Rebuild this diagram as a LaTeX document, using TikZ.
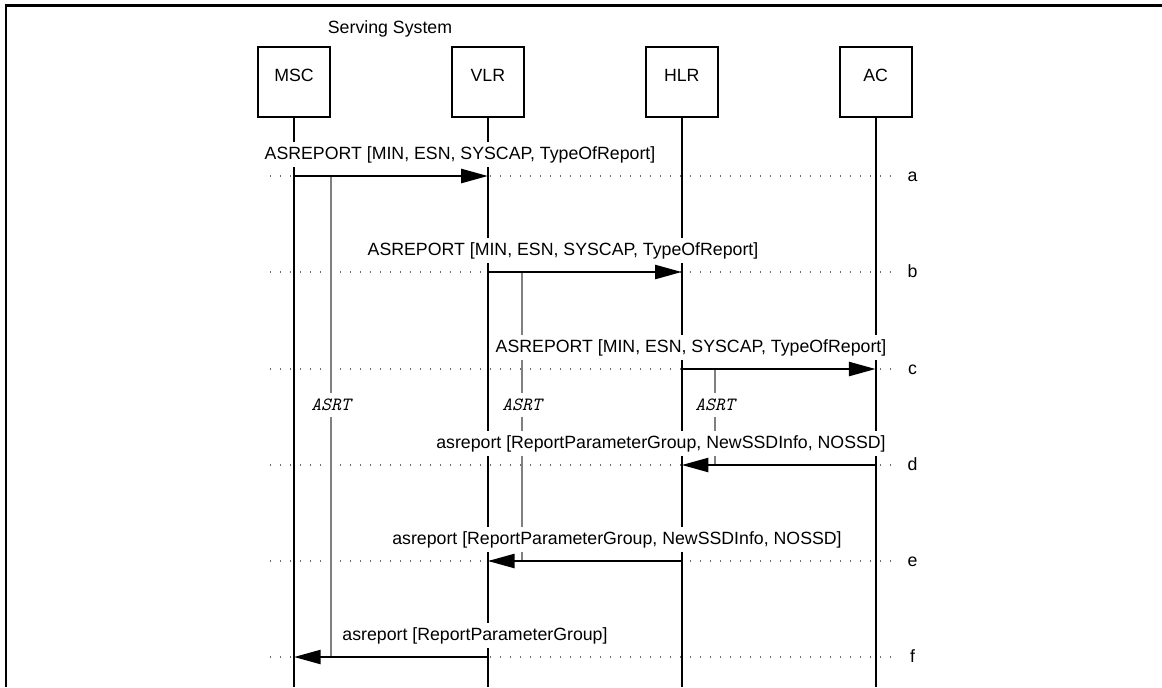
\documentclass[tikz,border=0pt]{standalone}
\usepackage{fontspec}
\setmainfont{Liberation Sans}
\usetikzlibrary{arrows.meta,positioning}
\definecolor{timergray}{HTML}{808080}
\definecolor{dotgray}{HTML}{6E6E6E}

\begin{document}
\begin{tikzpicture}[
  x=0.75pt, y=-0.75pt,
  node distance=90pt,
  font=\fontsize{13.3}{16}\selectfont,
  box/.style={
    draw,
    line width=1.4pt,
    minimum width=54pt,
    minimum height=53pt,
    text depth=10pt,
    inner sep=0pt
  },
  life/.style={line width=1.4pt},
  msg/.style={-{Triangle[length=20pt,width=10.5pt]},line width=1.8pt},
  dots/.style={dotgray,line width=0.8pt,dash pattern=on 0.8pt off 6.7pt},
  timer/.style={timergray,line width=1.3pt},
  tlabel/.style={
    font=\ttfamily\itshape\fontsize{14}{16}\selectfont,
    fill=white,
    inner xsep=1pt,
    inner ysep=4.5pt
  },
  msglbl/.style={anchor=base,fill=white,inner xsep=1pt,inner ysep=3pt},
  rowlbl/.style={anchor=base,inner sep=0pt},
  frame/.style={line width=1.6pt}
]
  \useasboundingbox (0,0) rectangle (1162,687);
  \draw[frame] (6,687) -- (6,5.5) -- (1162,5.5);

  % network entities
  \node[anchor=base] (serving) at (390,33.3) {Serving System};
  \node[box] (msc) at (294,82) {MSC};
  \node[box,right=of msc] (vlr) {VLR};
  \node[box,right=of vlr] (hlr) {HLR};
  \node[box,right=of hlr] (ac) {AC};

  \coordinate (bottom) at (0,687);
  \foreach \n in {msc,vlr,hlr,ac}
    \draw[life] (\n.south) -- (\n.south |- bottom);

  % message rows
  \coordinate (dotstart) at (270,0);
  \coordinate (dotend) at (893,0);
  \foreach \r/\y in {a/176,b/272,c/369,d/465,e/561,f/657}{
    \coordinate (row\r) at (0,\y);
    \node[rowlbl] (lbl\r) at (912.5,\y+5.5) {\r};
    \draw[dots] (dotstart |- row\r) -- (dotend |- row\r);
  }

  % timers
  \node[tlabel] (t1) at (331,405) {ASRT};
  \node[tlabel] (t2) at (522,405) {ASRT};
  \node[tlabel] (t3) at (715,405) {ASRT};
  \draw[timer] (t1 |- rowa) -- (t1.north);
  \draw[timer] (t1.south) -- (t1 |- rowf);
  \draw[timer] (t2 |- rowb) -- (t2.north);
  \draw[timer] (t2.south) -- (t2 |- rowe);
  \draw[timer] (t3 |- rowc) -- (t3.north);
  \draw[timer] (t3.south) -- (t3 |- rowd);

  % messages
  \draw[msg] (msc |- rowa) -- (vlr |- rowa);
  \draw[msg] (vlr |- rowb) -- (hlr |- rowb);
  \draw[msg] (hlr |- rowc) -- (ac |- rowc);
  \draw[msg] (ac |- rowd) -- (hlr |- rowd);
  \draw[msg] (hlr |- rowe) -- (vlr |- rowe);
  \draw[msg] (vlr |- rowf) -- (msc |- rowf);

  \node[msglbl] (ma) at (460,159) {ASREPORT [MIN, ESN, SYSCAP, TypeOfReport]};
  \node[msglbl] (mb) at (563,255) {ASREPORT [MIN, ESN, SYSCAP, TypeOfReport]};
  \node[msglbl] (mc) at (691,352) {ASREPORT [MIN, ESN, SYSCAP, TypeOfReport]};
  \node[msglbl] (md) at (661,448) {asreport [ReportParameterGroup, NewSSDInfo, NOSSD]};
  \node[msglbl] (me) at (617,544) {asreport [ReportParameterGroup, NewSSDInfo, NOSSD]};
  \node[msglbl] (mf) at (475,640) {asreport [ReportParameterGroup]};
\end{tikzpicture}
\end{document}
